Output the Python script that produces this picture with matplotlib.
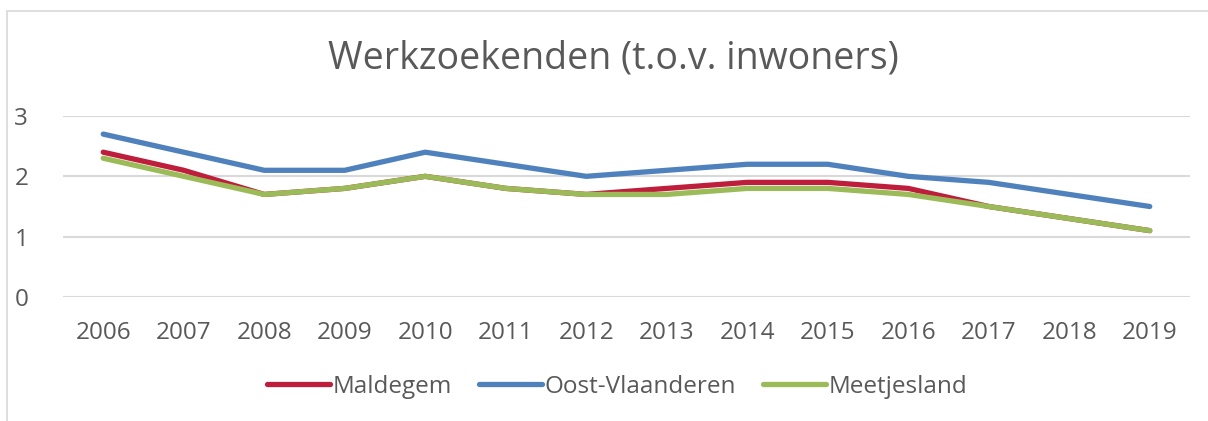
import matplotlib.pyplot as plt
from matplotlib.patches import Rectangle

plt.rcParams['font.family'] = ['Open Sans', 'DejaVu Sans']

# Data
years = [2006, 2007, 2008, 2009, 2010, 2011, 2012, 2013, 2014, 2015, 2016, 2017, 2018, 2019]
maldegem = [2.4, 2.1, 1.7, 1.8, 2.0, 1.8, 1.7, 1.8, 1.9, 1.9, 1.8, 1.5, 1.3, 1.1]
oost_vlaanderen = [2.7, 2.4, 2.1, 2.1, 2.4, 2.2, 2.0, 2.1, 2.2, 2.2, 2.0, 1.9, 1.7, 1.5]
meetjesland = [2.3, 2.0, 1.7, 1.8, 2.0, 1.8, 1.7, 1.7, 1.8, 1.8, 1.7, 1.5, 1.3, 1.1]

text_color = '#595959'
grid_color = '#D9D9D9'

fig = plt.figure(figsize=(12.08, 4.21), dpi=100)
ax = fig.add_axes([63 / 1208, 1 - 297 / 421, (1190 - 63) / 1208, (297 - 116) / 421])

x = list(range(len(years)))
ax.plot(x, maldegem, color='#BE1E3C', lw=3.8, solid_capstyle='round', label='Maldegem', zorder=3)
ax.plot(x, oost_vlaanderen, color='#4F81BD', lw=3.8, solid_capstyle='round', label='Oost-Vlaanderen', zorder=3)
ax.plot(x, meetjesland, color='#9BBB59', lw=3.8, solid_capstyle='round', label='Meetjesland', zorder=4)

ax.set_xlim(-0.5, len(years) - 0.5)
ax.set_ylim(0, 3)
ax.set_yticks([0, 1, 2, 3])
ax.set_xticks(x)
ax.set_xticklabels([str(y) for y in years])
ax.tick_params(axis='both', length=0, labelsize=17.5, labelcolor=text_color)
ax.tick_params(axis='x', pad=17)
ax.tick_params(axis='y', pad=25)
ax.grid(axis='y', color=grid_color, lw=1.5)
ax.set_axisbelow(True)
for s in ax.spines.values():
    s.set_visible(False)

fig.text(613 / 1208, 1 - 58 / 421, 'Werkzoekenden (t.o.v. inwoners)', ha='center', va='center',
         fontsize=27, color=text_color)

leg = fig.legend(loc='center', bbox_to_anchor=(617 / 1208, 1 - 387 / 421), ncol=3, frameon=False,
                 fontsize=17.5, labelcolor=text_color, handlelength=2.6, handletextpad=0.1,
                 columnspacing=1.1)

# outer chart border
fig.patches.append(Rectangle((7 / 1208, -0.1), 1.2, (421 - 11) / 421 + 0.1, transform=fig.transFigure,
                             fill=False, edgecolor='#D9D9D9', lw=1.2))

fig.savefig('out.png', dpi=100)
